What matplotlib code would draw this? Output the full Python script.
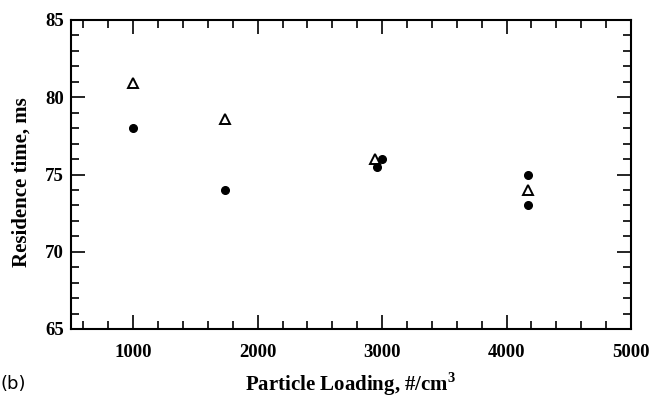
import matplotlib
matplotlib.use('Agg')
import matplotlib.pyplot as plt
from matplotlib.ticker import MultipleLocator

plt.rcParams['font.family'] = 'Liberation Serif'
plt.rcParams['mathtext.fontset'] = 'custom'
plt.rcParams['mathtext.rm'] = 'Liberation Serif'
plt.rcParams['mathtext.bf'] = 'Liberation Serif:bold'

# open triangles
tri_x = [1000, 1740, 2940, 4170]
tri_y = [80.9, 78.6, 76.0, 74.0]
# filled circles
dot_x = [1000, 1740, 2955, 3000, 4170, 4170]
dot_y = [78.0, 74.0, 75.5, 76.0, 75.0, 73.0]

fig = plt.figure(figsize=(6.52, 3.98), dpi=100)
ax = fig.add_axes([71/652, 1-329/398, 560/652, 309/398])

ax.plot(tri_x, tri_y, linestyle='none', marker='^', ms=7.5, mfc='white',
        mec='black', mew=1.4)
ax.plot(dot_x, dot_y, linestyle='none', marker='o', ms=5.5, color='black')

ax.set_xlim(500, 5000)
ax.set_ylim(65, 85)
ax.xaxis.set_major_locator(MultipleLocator(1000))
ax.xaxis.set_minor_locator(MultipleLocator(200))
ax.yaxis.set_major_locator(MultipleLocator(5))
ax.yaxis.set_minor_locator(MultipleLocator(1))
ax.tick_params(which='both', direction='in', top=True, right=True,
               labelsize=13.5, width=1.2)
ax.tick_params(which='major', length=10)
ax.tick_params(which='minor', length=5.5)
ax.tick_params(axis='x', pad=11)
ax.tick_params(axis='y', pad=5)
for lab in ax.get_xticklabels() + ax.get_yticklabels():
    lab.set_fontweight('bold')
for s in ax.spines.values():
    s.set_linewidth(1.5)

fig.text(351/652, 1-391/398, 'Particle Loading, #/cm$^\\mathbf{3}$',
         fontsize=15, fontweight='bold', ha='center', va='baseline')
fig.text(22/652, 1-182/398, 'Residence time, ms', fontsize=15,
         fontweight='bold', rotation=90, ha='center', va='center')
fig.text(0.0, 0.012, '(b)', fontsize=13, family='DejaVu Sans', va='bottom')

fig.savefig('out.png', dpi=100)
